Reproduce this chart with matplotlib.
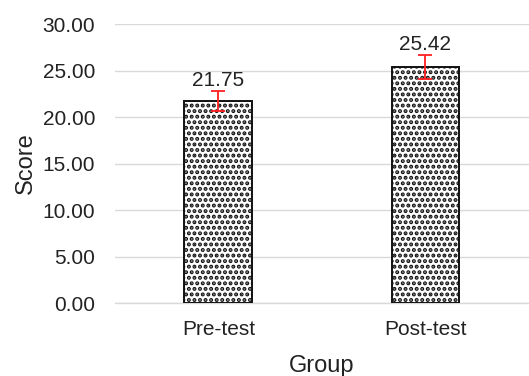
import matplotlib
matplotlib.use("Agg")
import matplotlib.pyplot as plt

groups = ["Pre-test", "Post-test"]
scores = [21.75, 25.42]
errors = [1.10, 1.30]
yticks = [0, 5, 10, 15, 20, 25, 30]

plt.rcParams['font.family'] = ['Liberation Sans', 'DejaVu Sans']
plt.rcParams['hatch.linewidth'] = 2.0
plt.rcParams['hatch.color'] = 'black'

fig = plt.figure(figsize=(5.29, 3.76), dpi=100)
ax = fig.add_axes([0.217, 0.194, 0.783, 0.742])

x = range(len(groups))
bars = ax.bar(x, scores, width=0.327, color='white', edgecolor='#111111',
              linewidth=1.4, hatch='...', zorder=3)
ax.errorbar(x, scores, yerr=errors, fmt='none', ecolor='#ff2020',
            elinewidth=1.3, capsize=5, capthick=1.3, zorder=4)
for xi, s, e in zip(x, scores, errors):
    ax.text(xi, s + e + 0.52, f"{s:.2f}", ha='center', va='baseline',
            fontsize=15, color='#222222', zorder=5)

ax.set_xlim(-0.5, 1.5)
ax.set_ylim(0, 30)
ax.set_yticks(yticks)
ax.set_yticklabels([f"{v:.2f}" for v in yticks])
ax.set_xticks(list(x))
ax.set_xticklabels(groups)
ax.tick_params(axis='both', length=0, labelsize=15, colors='#222222')
ax.tick_params(axis='y', pad=14)
ax.tick_params(axis='x', pad=12)
ax.yaxis.grid(True, color='#d9d9d9', linewidth=1.0, zorder=0)
ax.set_axisbelow(True)
for side in ['top', 'right', 'left']:
    ax.spines[side].set_visible(False)
ax.spines['bottom'].set_color('#d9d9d9')
ax.spines['bottom'].set_linewidth(1.0)
ax.set_xlabel("Group", fontsize=17, color='#222222', labelpad=12)
ax.set_ylabel("Score", fontsize=17, color='#222222', labelpad=4)

fig.savefig("out.png", dpi=100)
